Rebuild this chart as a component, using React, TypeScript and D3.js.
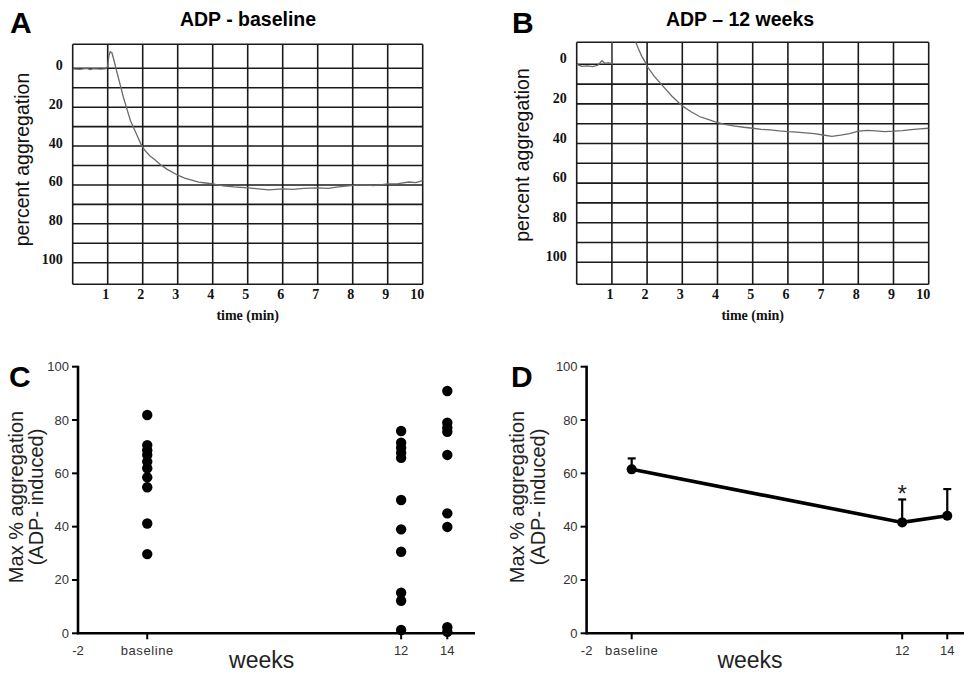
import React from "react";
import * as d3 from "d3";

// ---------- Data ----------
const timeTicks = [1, 2, 3, 4, 5, 6, 7, 8, 9, 10];
const aggTicks = [0, 20, 40, 60, 80, 100];
const aggGrid = [0, 10, 20, 30, 40, 50, 60, 70, 80, 90, 100];

// Panel A trace (time in min, percent aggregation)
const traceBaseline: [number, number][] = [
  [0, 0.3], [0.2, 0.5], [0.4, 0], [0.5, 0.6], [0.6, 0.2], [0.8, 0.4], [0.95, 0.2],
  [1.0, -1], [1.03, -6], [1.07, -8.5], [1.12, -8], [1.18, -4], [1.25, 1], [1.35, 8],
  [1.45, 15], [1.55, 21], [1.65, 27], [1.75, 31], [1.85, 35], [1.95, 39], [2.05, 42],
  [2.2, 45], [2.35, 47], [2.5, 49.5], [2.7, 52], [2.9, 54], [3.0, 55], [3.2, 56.5],
  [3.4, 57.5], [3.6, 58.5], [3.8, 59], [4.0, 59.5], [4.3, 60.5], [4.6, 61], [5.0, 61.5],
  [5.3, 62], [5.6, 62.5], [6.0, 62], [6.3, 62.3], [6.6, 61.8], [7.0, 61.5], [7.3, 61.8],
  [7.6, 61], [8.0, 60.2], [8.3, 60], [8.6, 60.3], [9.0, 59.5], [9.3, 59.3], [9.6, 58.5],
  [9.8, 58.8], [10, 57.8],
];

// Panel B trace
const trace12Weeks: [number, number][] = [
  [0, 0], [0.15, 1], [0.3, 0.8], [0.45, 1.2], [0.6, 0.5], [0.72, -1.8], [0.8, -0.5],
  [0.9, -0.8], [1.0, -0.2], [1.01, -30], [1.4, -45], [1.55, -30], [1.68, -11], [1.75, -8],
  [1.85, -4], [1.95, -1], [2.0, 1], [2.2, 6], [2.45, 11], [2.7, 16], [3.0, 21], [3.25, 24],
  [3.5, 26.5], [3.75, 28], [4.0, 29.5], [4.25, 30.5], [4.5, 31.2], [4.75, 31.8], [5.0, 32.3],
  [5.25, 32.9], [5.5, 33.1], [5.75, 33.6], [6.0, 34], [6.25, 34.3], [6.5, 34.6], [6.75, 35],
  [7.0, 35.7], [7.25, 36.4], [7.5, 35.8], [7.75, 35], [8.0, 33.8], [8.25, 33.4], [8.5, 33.6],
  [8.75, 34], [9.0, 33.8], [9.25, 33.5], [9.5, 33], [9.75, 32.6], [10, 32.3],
];

// Panel C individual values
const weekLabels = ["-2", "baseline", "12", "14"];
const weekPosC = [-2, 1, 12, 14];
const weekPosD = [-2, 0, 12, 14];
const valuesBaseline = [81.9, 70.6, 68.7, 66.9, 64.4, 61.9, 58.5, 54.8, 41.2, 29.7];
const values12 = [75.9, 71.5, 69.6, 67.7, 65.8, 50, 39, 30.6, 15.2, 12.2, 1.25];
const values14 = [90.9, 79, 77.1, 75.6, 66.9, 45, 39.9, 2.25, 0.6];

// Panel D means and upper error
const meanWeeks = [0, 12, 14];
const meanValues = [61.5, 41.6, 44.1];
const meanErrors = [4.1, 8.6, 10.0];
const yTicksCD = [0, 20, 40, 60, 80, 100];

const SANS = "'Liberation Sans', Arial, sans-serif";
const SERIF = "'Liberation Serif', 'Times New Roman', serif";

type GridProps = {
  id: string;
  x0: number; x1: number; yTop: number; yBot: number; yZero: number; yHundred: number;
  data: [number, number][];
  labelDy: number;
  title: string; titleX: number;
  letter: string; letterX: number;
  ylabX: number; ylabY: number;
};

function GridPanel(p: GridProps) {
  const x = d3.scaleLinear().domain([0, 10]).range([p.x0, p.x1]);
  const y = d3.scaleLinear().domain([0, 100]).range([p.yZero, p.yHundred]);
  const line = d3.line<[number, number]>().x((d) => x(d[0])).y((d) => y(d[1]));
  const grid = "#1a1a1a";
  return (
    <g>
      <text x={p.letterX} y={33} fontFamily={SANS} fontWeight="bold" fontSize={30}>{p.letter}</text>
      <text x={p.titleX} y={26} textAnchor="middle" fontFamily={SANS} fontWeight="bold" fontSize={19.5}>{p.title}</text>
      <defs>
        <clipPath id={p.id}>
          <rect x={p.x0} y={p.yTop} width={p.x1 - p.x0} height={p.yBot - p.yTop} />
        </clipPath>
      </defs>
      {d3.range(0, 11).map((t) => (
        <line key={"v" + t} x1={x(t)} x2={x(t)} y1={p.yTop} y2={p.yBot} stroke={grid} strokeWidth={1.6} />
      ))}
      {aggGrid.map((v) => (
        <line key={"h" + v} x1={p.x0} x2={p.x1} y1={y(v)} y2={y(v)} stroke={grid} strokeWidth={1.6} />
      ))}
      <line x1={p.x0} x2={p.x1} y1={p.yTop} y2={p.yTop} stroke={grid} strokeWidth={1.6} />
      <line x1={p.x0} x2={p.x1} y1={p.yBot} y2={p.yBot} stroke={grid} strokeWidth={1.6} />
      <path d={line(p.data) || ""} fill="none" stroke="#6a6a6a" strokeWidth={1.3} clipPath={`url(#${p.id})`} />
      {aggTicks.map((v) => (
        <text key={"yl" + v} x={p.x0 - 10} y={y(v) + p.labelDy} textAnchor="end" fontFamily={SERIF} fontWeight="bold" fontSize={14} fill="#111">{v}</text>
      ))}
      {timeTicks.map((t) => (
        <text key={"xl" + t} x={x(t) + 1.5} y={299} textAnchor="end" fontFamily={SERIF} fontWeight="bold" fontSize={14} fill="#111">{t}</text>
      ))}
      <text x={(p.x0 + p.x1) / 2} y={320} textAnchor="middle" fontFamily={SERIF} fontWeight="bold" fontSize={14} fill="#111">time (min)</text>
      <text transform={`translate(${p.ylabX},${p.ylabY}) rotate(-90)`} textAnchor="middle" fontFamily={SANS} fontSize={19.5} fill="#111">percent aggregation</text>
    </g>
  );
}

function AxesCD(props: {
  x: d3.ScaleLinear<number, number>;
  y: d3.ScaleLinear<number, number>;
  pos: number[];
  letter: string; letterX: number;
  l1x: number; l2x: number; weeksX: number;
}) {
  const { x, y, pos } = props;
  const [xa, xb] = x.range();
  return (
    <g>
      <text x={props.letterX} y={387} fontFamily={SANS} fontWeight="bold" fontSize={30}>{props.letter}</text>
      <line x1={xa} x2={xa} y1={y(100) - 1} y2={y(0) + 1} stroke="#000" strokeWidth={2.6} />
      <line x1={xa - 1} x2={xb} y1={y(0)} y2={y(0)} stroke="#000" strokeWidth={2.6} />
      {yTicksCD.map((v) => (
        <g key={"yt" + v}>
          <line x1={xa - 6} x2={xa} y1={y(v)} y2={y(v)} stroke="#000" strokeWidth={2} />
          <text x={xa - 9} y={y(v) + 4.5} textAnchor="end" fontFamily={SANS} fontSize={13} fill="#333">{v}</text>
        </g>
      ))}
      {pos.map((w, i) => (
        <g key={"xt" + i}>
          {i > 0 && <line x1={x(w)} x2={x(w)} y1={y(0)} y2={y(0) + 6} stroke="#000" strokeWidth={2} />}
          <text x={x(w)} y={655} textAnchor="middle" fontFamily={SANS} fontSize={13} fill="#333" letterSpacing={i === 1 ? 0.6 : 0}>{weekLabels[i]}</text>
        </g>
      ))}
      <text x={props.weeksX} y={668} textAnchor="middle" fontFamily={SANS} fontSize={23} fill="#222">weeks</text>
      <text transform={`translate(${props.l1x},497) rotate(-90)`} textAnchor="middle" fontFamily={SANS} fontSize={20} fill="#222">Max % aggregation</text>
      <text transform={`translate(${props.l2x},497) rotate(-90)`} textAnchor="middle" fontFamily={SANS} fontSize={20} fill="#222">(ADP- induced)</text>
    </g>
  );
}

export default function App() {
  const yCD = d3.scaleLinear().domain([0, 100]).range([633.3, 366.7]);
  const xC = d3.scaleLinear().domain([-2, 15.2]).range([78, 475]);
  const xD = d3.scaleLinear().domain([-2, 14.76]).range([586.6, 964.4]);

  const groups: { w: number; vals: number[] }[] = [
    { w: weekPosC[1], vals: valuesBaseline },
    { w: weekPosC[2], vals: values12 },
    { w: weekPosC[3], vals: values14 },
  ];

  const meanPts: [number, number][] = meanWeeks.map((w, i) => [w, meanValues[i]]);
  const meanLine = d3.line<[number, number]>().x((d) => xD(d[0])).y((d) => yCD(d[1]));

  return (
    <svg width={964} height={677} style={{ position: "absolute", left: 0, top: 0, background: "#fff" }}>
      <rect width={964} height={677} fill="#fff" />
      <GridPanel id="clipA" x0={72.7} x1={422.7} yTop={44.3} yBot={284.3} yZero={68.3} yHundred={262.7}
        data={traceBaseline} labelDy={1.5} title="ADP - baseline" titleX={248} letter="A" letterX={10}
        ylabX={29} ylabY={159.5} />
      <GridPanel id="clipB" x0={576.7} x1={928.7} yTop={42.3} yBot={284.3} yZero={64.3} yHundred={262.3}
        data={trace12Weeks} labelDy={-1} title="ADP – 12 weeks" titleX={740} letter="B" letterX={512}
        ylabX={529} ylabY={155} />

      {/* Panel C */}
      <AxesCD x={xC} y={yCD} pos={weekPosC} letter="C" letterX={9} l1x={22.5} l2x={42.5} weeksX={261.7} />
      {groups.map((g, gi) =>
        g.vals.map((v, i) => (
          <circle key={`c${gi}-${i}`} cx={xC(g.w)} cy={yCD(v)} r={5.2} fill="#000" />
        ))
      )}

      {/* Panel D */}
      <AxesCD x={xD} y={yCD} pos={weekPosD} letter="D" letterX={511} l1x={524} l2x={545} weeksX={750} />
      {meanPts.map((d, i) => (
        <g key={"eb" + i}>
          <line x1={xD(d[0])} x2={xD(d[0])} y1={yCD(d[1])} y2={yCD(d[1] + meanErrors[i])} stroke="#000" strokeWidth={2.2} />
          <line x1={xD(d[0]) - 4} x2={xD(d[0]) + 4} y1={yCD(d[1] + meanErrors[i])} y2={yCD(d[1] + meanErrors[i])} stroke="#000" strokeWidth={2.2} />
        </g>
      ))}
      <path d={meanLine(meanPts) || ""} fill="none" stroke="#000" strokeWidth={3.6} />
      {meanPts.map((d, i) => (
        <circle key={"m" + i} cx={xD(d[0])} cy={yCD(d[1])} r={5} fill="#000" />
      ))}
      <text x={xD(12)} y={502} textAnchor="middle" fontFamily={SANS} fontSize={24} fill="#222">*</text>
    </svg>
  );
}
